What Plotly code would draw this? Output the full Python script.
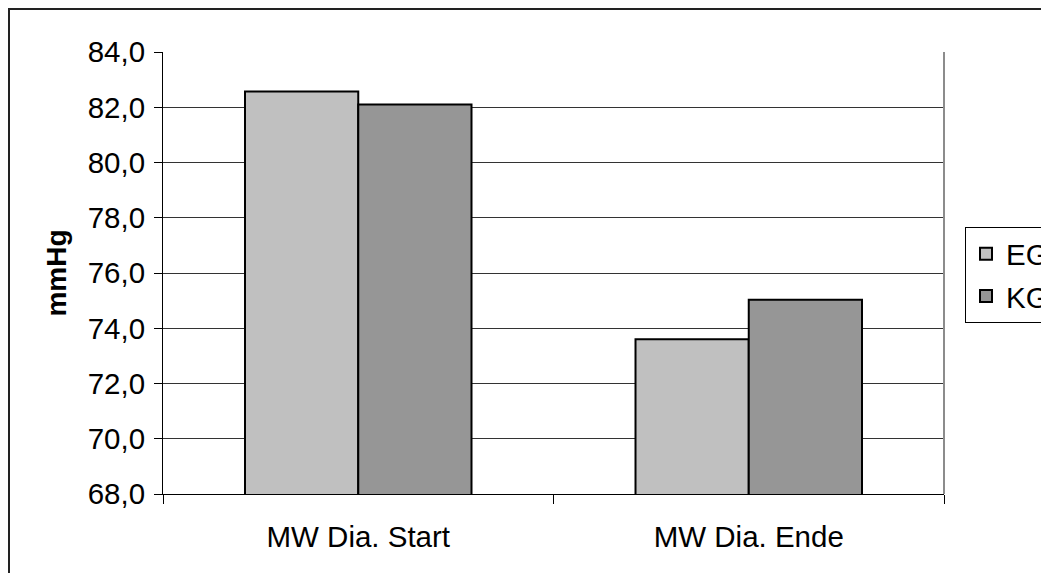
import plotly.graph_objects as go

# Mean diastolic blood pressure, start vs. end, per group
categories = ["MW Dia. Start", "MW Dia. Ende"]
eg_values = [82.57, 73.6]
kg_values = [82.1, 75.03]
series_names = ["EG", "KG"]
series_colors = ["#c0c0c0", "#969696"]

W, H = 1041, 573
L, R, T, B = 163, 97, 52, 79
pw, ph = W - L - R, H - T - B

font_family = "Liberation Sans, Arial, sans-serif"

fig = go.Figure()
for i, (name, vals) in enumerate(zip(series_names, [eg_values, kg_values])):
    fig.add_trace(go.Bar(
        x=categories, y=vals, name=name, legendgroup=name,
        marker=dict(color=series_colors[i], line=dict(color="#000000", width=2)),
    ))

# outer chart frame (runs past the right and bottom edges)
fig.add_shape(type="rect", xref="paper", yref="paper",
              x0=(9 - L) / pw, x1=(W + 20 - L) / pw,
              y0=-(B + 20) / ph, y1=1 + (T - 9) / ph,
              line=dict(color="#222222", width=2), fillcolor="rgba(0,0,0,0)", layer="below")
# right edge of the plot area
fig.add_shape(type="line", xref="paper", yref="paper", x0=1, x1=1, y0=0, y1=1,
              line=dict(color="#8c8c8c", width=2))

fig.update_layout(
    width=W, height=H,
    margin=dict(l=L, r=R, t=T, b=B, autoexpand=False),
    paper_bgcolor="#ffffff", plot_bgcolor="#ffffff",
    separators=",.",
    font=dict(family=font_family, size=29.5, color="#000000"),
    barmode="group", bargap=0.42, bargroupgap=0,
    showlegend=True,
    legend=dict(x=(965 - L) / pw, xanchor="left", y=1 - (227 - T) / ph, yanchor="top",
                bgcolor="#ffffff", bordercolor="#000000", borderwidth=1,
                font=dict(size=29.5), tracegroupgap=1, traceorder="grouped"),
    xaxis=dict(
        showline=True, linecolor="#000000", linewidth=1,
        ticks="outside", tickson="boundaries", ticklen=9, tickcolor="#000000",
        ticklabelstandoff=17,
    ),
    yaxis=dict(
        range=[68, 84], dtick=2, tickformat=".1f",
        showline=True, linecolor="#000000", linewidth=1,
        ticks="outside", ticklen=8, tickcolor="#000000",
        showgrid=True, gridcolor="#333333", gridwidth=1,
        ticklabelstandoff=3,
        title=dict(text="<b>mmHg</b>", font=dict(size=28), standoff=12),
    ),
)

fig.write_html("out.html")
